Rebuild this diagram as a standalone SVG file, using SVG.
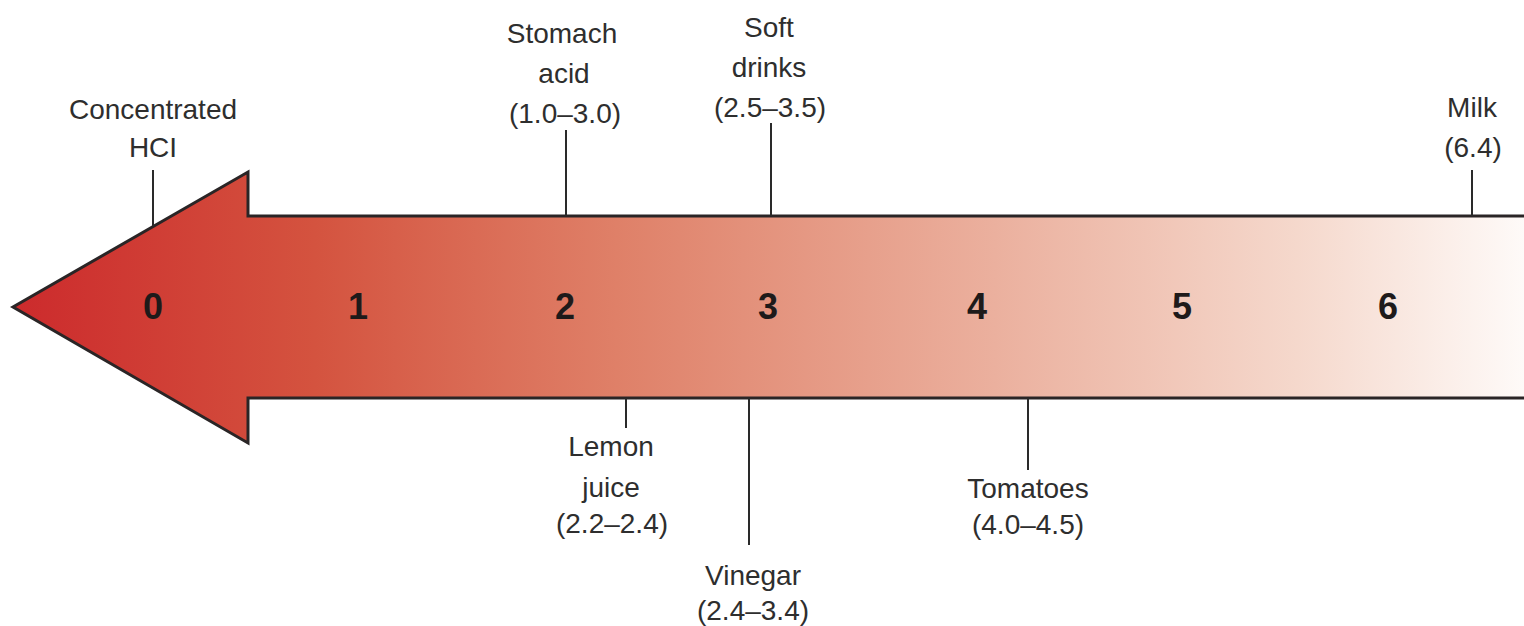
<svg xmlns="http://www.w3.org/2000/svg" width="1524" height="626" viewBox="0 0 1524 626">
<style>
.lbl{font-family:"Liberation Sans Narrow","Liberation Sans",Arial,sans-serif;font-size:28px;fill:#2e2e2e;text-anchor:middle}
.num{font-family:"Liberation Sans","DejaVu Sans",sans-serif;font-size:36px;font-weight:bold;fill:#1e1a1a;text-anchor:middle}
.lead{stroke:#2a2a2a;stroke-width:2;fill:none}
</style>
<defs>
<linearGradient id="g" x1="12" y1="0" x2="1524" y2="0" gradientUnits="userSpaceOnUse">
<stop offset="0" stop-color="#cc2a2c"/>
<stop offset="0.2" stop-color="#d4533f"/>
<stop offset="0.4" stop-color="#df8068"/>
<stop offset="0.65" stop-color="#ebb09e"/>
<stop offset="0.85" stop-color="#f5d8cc"/>
<stop offset="1" stop-color="#fefaf8"/>
</linearGradient>
</defs>
<rect width="1524" height="626" fill="#ffffff"/>
<g id="scale-arrow">
<path d="M1526 216 L248 216 L248 172 L13 307 L248 443 L248 398 L1526 398" fill="url(#g)" stroke="#2a2526" stroke-width="3" stroke-linejoin="miter"/>
<text class="num" x="153" y="319">0</text>
<text class="num" x="358" y="319">1</text>
<text class="num" x="565" y="319">2</text>
<text class="num" x="768" y="319">3</text>
<text class="num" x="977" y="319">4</text>
<text class="num" x="1182" y="319">5</text>
<text class="num" x="1388" y="319">6</text>
</g>
<g id="connectors">
<line class="lead" x1="153" y1="170" x2="153" y2="226"/>
<line class="lead" x1="566" y1="130" x2="566" y2="216"/>
<line class="lead" x1="771" y1="123" x2="771" y2="216"/>
<line class="lead" x1="1472" y1="170" x2="1472" y2="216"/>
<line class="lead" x1="626" y1="398" x2="626" y2="428"/>
<line class="lead" x1="749" y1="398" x2="749" y2="545"/>
<line class="lead" x1="1028" y1="398" x2="1028" y2="470"/>
</g>
<g id="hcl">
<text class="lbl" x="153" y="119">Concentrated</text>
<text class="lbl" x="153" y="157">HCI</text>
</g>
<g id="stomach-acid">
<text class="lbl" x="562" y="43">Stomach</text>
<text class="lbl" x="564" y="83">acid</text>
<text class="lbl" x="565" y="123">(1.0–3.0)</text>
</g>
<g id="soft-drinks">
<text class="lbl" x="769" y="37">Soft</text>
<text class="lbl" x="769" y="77">drinks</text>
<text class="lbl" x="770" y="117">(2.5–3.5)</text>
</g>
<g id="milk">
<text class="lbl" x="1472" y="117">Milk</text>
<text class="lbl" x="1473" y="157">(6.4)</text>
</g>
<g id="lemon-juice">
<text class="lbl" x="611" y="456">Lemon</text>
<text class="lbl" x="611" y="497">juice</text>
<text class="lbl" x="612" y="533">(2.2–2.4)</text>
</g>
<g id="vinegar">
<text class="lbl" x="753" y="585">Vinegar</text>
<text class="lbl" x="753" y="620">(2.4–3.4)</text>
</g>
<g id="tomatoes">
<text class="lbl" x="1028" y="498">Tomatoes</text>
<text class="lbl" x="1028" y="534">(4.0–4.5)</text>
</g>
</svg>
